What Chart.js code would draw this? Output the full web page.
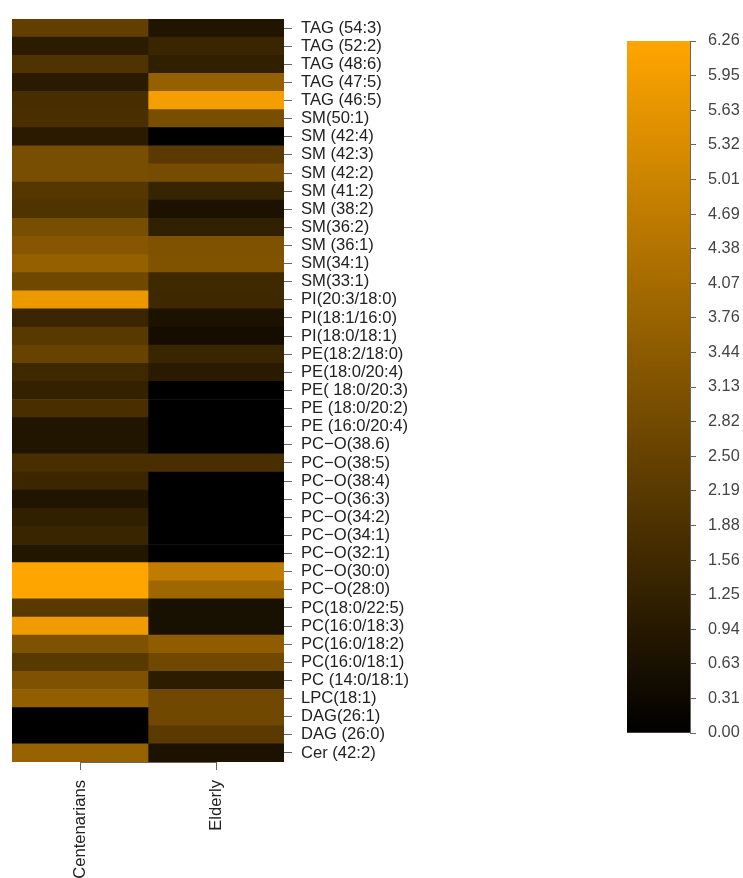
<!DOCTYPE html>
<html>
<head>
<meta charset="utf-8">
<script src="https://cdn.jsdelivr.net/npm/chart.js@4.4.1/dist/chart.umd.min.js"></script>
<style>
  html, body { margin: 0; padding: 0; background: #fff; width: 743px; height: 878px; overflow: hidden; }
  #heat { position: absolute; left: 0; top: 0; }
  #bar { position: absolute; left: 600px; top: 0; }
</style>
</head>
<body>
<canvas id="heat" width="430" height="878"></canvas>
<canvas id="bar" width="143" height="878"></canvas>
<script>
const rowLabels = [
  'TAG (54:3)', 'TAG (52:2)', 'TAG (48:6)', 'TAG (47:5)', 'TAG (46:5)',
  'SM(50:1)', 'SM (42:4)', 'SM (42:3)', 'SM (42:2)', 'SM (41:2)',
  'SM (38:2)', 'SM(36:2)', 'SM (36:1)', 'SM(34:1)', 'SM(33:1)',
  'PI(20:3/18:0)', 'PI(18:1/16:0)', 'PI(18:0/18:1)', 'PE(18:2/18:0)', 'PE(18:0/20:4)',
  'PE( 18:0/20:3)', 'PE (18:0/20:2)', 'PE (16:0/20:4)', 'PC\u2212O(38.6)', 'PC\u2212O(38:5)',
  'PC\u2212O(38:4)', 'PC\u2212O(36:3)', 'PC\u2212O(34:2)', 'PC\u2212O(34:1)', 'PC\u2212O(32:1)',
  'PC\u2212O(30:0)', 'PC\u2212O(28:0)', 'PC(18:0/22:5)', 'PC(16:0/18:3)', 'PC(16:0/18:2)',
  'PC(16:0/18:1)', 'PC (14:0/18:1)', 'LPC(18:1)', 'DAG(26:1)', 'DAG (26:0)',
  'Cer (42:2)'
];
const groupLabels = ['Centenarians', 'Elderly'];
const centenarians = [
  2.4, 1.05, 1.95, 1.0, 1.75,
  1.8, 1.0, 2.95, 2.95, 2.1,
  1.95, 2.95, 3.3, 3.65, 2.75,
  5.8, 1.4, 2.15, 2.55, 1.5,
  1.25, 1.8, 0.8, 0.8, 1.8,
  1.45, 0.8, 1.2, 1.4, 0.85,
  6.26, 6.26, 2.15, 5.9, 3.1,
  2.15, 3.1, 3.55, 0.0, 0.0,
  3.7
];
const elderly = [
  0.8, 1.4, 1.2, 3.65, 6.0,
  2.95, 0.0, 2.2, 2.9, 1.35,
  0.7, 1.2, 3.1, 3.15, 1.55,
  1.5, 0.7, 0.5, 1.4, 1.0,
  0.0, 0.0, 0.0, 0.0, 1.8,
  0.0, 0.0, 0.0, 0.0, 0.0,
  4.7, 3.9, 0.6, 0.6, 3.5,
  2.75, 1.1, 2.75, 2.75, 2.2,
  0.7
];
const colorbarTicks = [
  '0.00', '0.31', '0.63', '0.94', '1.25', '1.56', '1.88', '2.19', '2.50', '2.82', '3.13',
  '3.44', '3.76', '4.07', '4.38', '4.69', '5.01', '5.32', '5.63', '5.95', '6.26'
];
const vmax = 6.26;

function heat(v) {
  const t = Math.max(0, Math.min(1, v / vmax));
  return 'rgb(' + Math.round(255 * t) + ',' + Math.round(165 * t) + ',0)';
}

const FAMILY = "'Liberation Sans', Arial, sans-serif";
const FONT_HEAT = { family: FAMILY, size: 16.6 };
const FONT_BAR = { family: FAMILY, size: 16.3 };

const xAxisLine = {
  id: 'xAxisLine',
  afterDraw(chart) {
    const x = chart.scales.x;
    const c = chart.ctx;
    c.save();
    c.strokeStyle = '#666';
    c.lineWidth = 1;
    c.beginPath();
    const y = Math.round(x.top) + 0.5;
    c.moveTo(x.getPixelForValue(0.5), y);
    c.lineTo(x.getPixelForValue(1.5), y);
    c.stroke();
    c.restore();
  }
};

new Chart(document.getElementById('heat'), {
  type: 'bar',
  data: {
    labels: rowLabels,
    datasets: [
      { label: groupLabels[0], data: centenarians.map(() => [0, 1]), backgroundColor: centenarians.map(heat),
        grouped: false, barPercentage: 1, categoryPercentage: 1, borderWidth: 0 },
      { label: groupLabels[1], data: elderly.map(() => [1, 2]), backgroundColor: elderly.map(heat),
        grouped: false, barPercentage: 1, categoryPercentage: 1, borderWidth: 0 }
    ]
  },
  options: {
    indexAxis: 'y',
    responsive: false,
    animation: false,
    events: [],
    layout: { padding: { left: 12, top: 13, right: 0, bottom: 0 } },
    plugins: { legend: { display: false }, tooltip: { enabled: false } },
    scales: {
      x: {
        type: 'linear', min: 0, max: 2, position: 'bottom',
        grid: { display: true, drawOnChartArea: false, drawTicks: true, tickLength: 8, color: '#666' },
        border: { display: false },
        afterBuildTicks: s => { s.ticks = [{ value: 0.5 }, { value: 1.5 }]; },
        ticks: { autoSkip: false, maxRotation: 90, minRotation: 90, padding: 10, color: '#222', font: FONT_HEAT,
          callback: (v, i) => groupLabels[i] },
        afterFit: s => { s.height = 116; }
      },
      y: {
        type: 'category', position: 'right',
        grid: { display: true, drawOnChartArea: false, tickLength: 8, color: '#666', offset: false },
        border: { display: false },
        ticks: { autoSkip: false, padding: 9, color: '#222', font: FONT_HEAT },
        afterFit: s => { s.width = 146; }
      }
    }
  },
  plugins: [xAxisLine]
});

new Chart(document.getElementById('bar'), {
  type: 'bar',
  data: {
    labels: ['scale'],
    datasets: [{
      data: [[0, vmax]],
      backgroundColor: (ctx) => {
        const chart = ctx.chart;
        const ca = chart.chartArea;
        if (!ca) return 'rgb(128,83,0)';
        const g = chart.ctx.createLinearGradient(0, ca.bottom, 0, ca.top);
        g.addColorStop(0, 'rgb(0,0,0)');
        g.addColorStop(1, 'rgb(255,165,0)');
        return g;
      },
      barPercentage: 1, categoryPercentage: 1, borderWidth: 0
    }]
  },
  options: {
    responsive: false,
    animation: false,
    events: [],
    layout: { padding: { left: 27, top: 41, right: 0, bottom: 145 } },
    plugins: { legend: { display: false }, tooltip: { enabled: false } },
    scales: {
      x: { display: false },
      y: {
        position: 'right', min: 0, max: vmax,
        afterBuildTicks: s => { s.ticks = colorbarTicks.map(t => ({ value: parseFloat(t) })); },
        ticks: { autoSkip: false, padding: 12, color: '#444', font: FONT_BAR, callback: (v, i) => colorbarTicks[i] },
        grid: { display: true, drawOnChartArea: false, tickLength: 6, color: '#666' },
        border: { display: true, color: '#666' },
        afterFit: s => { s.width = 53; }
      }
    }
  }
});
</script>
</body>
</html>
